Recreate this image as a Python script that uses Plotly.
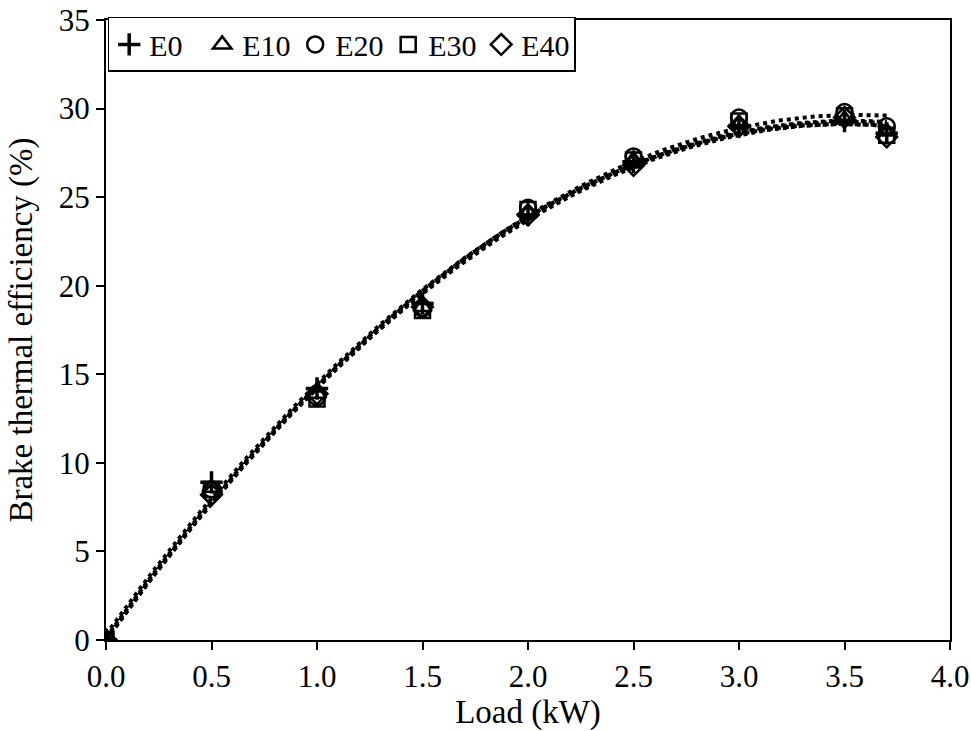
import numpy as np
import plotly.graph_objects as go

load = [0.0, 0.5, 1.0, 1.5, 2.0, 2.5, 3.0, 3.5, 3.7]
series_names = ["E0", "E10", "E20", "E30", "E40"]
e0 = [0.0, 8.9, 14.2, 19.0, 24.0, 27.0, 29.0, 29.3, 28.6]
e10 = [0.0, 8.6, 13.9, 18.8, 24.1, 27.1, 29.1, 29.4, 28.7]
e20 = [0.0, 8.5, 13.7, 18.7, 24.4, 27.3, 29.5, 29.8, 29.0]
e30 = [0.0, 8.5, 13.6, 18.6, 24.3, 27.1, 29.3, 29.6, 28.5]
e40 = [0.0, 8.2, 13.9, 18.8, 24.0, 26.8, 29.0, 29.5, 28.4]
x_ticks = [0.0, 0.5, 1.0, 1.5, 2.0, 2.5, 3.0, 3.5, 4.0]
y_ticks = [0, 5, 10, 15, 20, 25, 30, 35]

values = [e0, e10, e20, e30, e40]
symbols = ["cross-thin", "triangle-up-open", "circle-open", "square-open", "diamond-open"]
sizes = [16, 16, 16, 15, 16]

FONT = "Liberation Serif, Times New Roman, serif"
TICK_FS = 31
TITLE_FS = 33
LEG_FS = 30
fig = go.Figure()

# polynomial (2nd order) trendlines
xs = np.linspace(min(load), max(load), 200)
for vals in values:
    c = np.polyfit(load, vals, 2)
    fig.add_trace(go.Scatter(x=xs, y=np.polyval(c, xs), mode="lines",
                             line=dict(color="black", width=4, dash="dot"),
                             showlegend=False, hoverinfo="skip"))

for name, vals, sym, sz in zip(series_names, values, symbols, sizes):
    fig.add_trace(go.Scatter(x=load, y=vals, mode="markers", name=name,
                             marker=dict(symbol=sym, size=sz, color="black",
                                         line=dict(color="black", width=3.5 if sym == "cross-thin" else 2.5))))

fig.update_layout(
    width=971, height=731,
    margin=dict(l=106, r=21, t=20, b=91),
    paper_bgcolor="white", plot_bgcolor="white",
    font=dict(family=FONT, size=TICK_FS, color="black"),
    showlegend=True,
    legend=dict(orientation="h", x=0.002, y=1.005, xanchor="left", yanchor="top",
                bordercolor="black", borderwidth=1.5, bgcolor="white",
                font=dict(family=FONT, size=LEG_FS, color="black"),
                itemwidth=30, tracegroupgap=0, entrywidthmode="pixels", entrywidth=48),
    xaxis=dict(range=[0, 4.0], tickvals=x_ticks, ticktext=[f"{v:.1f}" for v in x_ticks],
               automargin=False,
               showgrid=False, zeroline=False, showline=True, linecolor="black", linewidth=2,
               mirror=True, ticks="outside", ticklen=8, tickwidth=2, tickcolor="black",
               title=dict(text="Load (kW)", font=dict(family=FONT, size=TITLE_FS), standoff=2),
               tickfont=dict(family=FONT, size=TICK_FS)),
    yaxis=dict(range=[0, 35], tickvals=y_ticks, automargin=False,
               showgrid=False, zeroline=False, showline=True, linecolor="black", linewidth=2,
               mirror=True, ticks="outside", ticklen=8, tickwidth=2, tickcolor="black",
               title=dict(text="Brake thermal efficiency (%)", font=dict(family=FONT, size=TITLE_FS), standoff=16),
               tickfont=dict(family=FONT, size=TICK_FS)),
)

fig.write_html("out.html")
